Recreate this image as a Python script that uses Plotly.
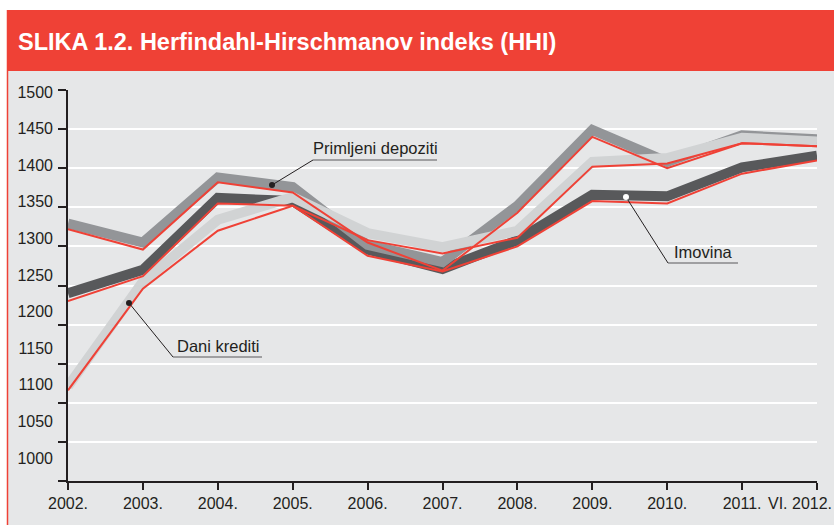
import plotly.graph_objects as go

years = ["2002.", "2003.", "2004.", "2005.", "2006.", "2007.", "2008.", "2009.", "2010.", "2011.", "VI. 2012."]

imovina = [1240, 1270, 1362, 1358, 1296, 1271, 1308, 1366, 1364, 1401, 1416]
imovina_red = [1230, 1262, 1355, 1352, 1288, 1268, 1300, 1358, 1355, 1393, 1410]
depoziti = [1329, 1305, 1388, 1376, 1302, 1280, 1352, 1449, 1408, 1442, 1437]
depoziti_red = [1322, 1296, 1382, 1369, 1305, 1269, 1343, 1440, 1400, 1432, 1428]
krediti = [1121, 1255, 1334, 1363, 1317, 1299, 1320, 1408, 1413, 1439, 1434]
krediti_red = [1116, 1246, 1320, 1352, 1308, 1291, 1311, 1402, 1406, 1432, 1428]

y_ticks = [1000, 1050, 1100, 1150, 1200, 1250, 1300, 1350, 1400, 1450, 1500]

DARK = "#58595b"
MID = "#939598"
LIGHT = "#d1d3d4"
RED = "#ef4136"
INK = "#231f20"
BG = "#e6e7e8"
FONT = "Liberation Sans"

W, H = 834, 525
L, R, T, B = 68, 17, 90, 44
PW, PH = W - L - R, H - T - B


def px(x):
    return (x - L) / PW


def py(y):
    return (H - B - y) / PH


fig = go.Figure()

for vals, col in [(imovina, DARK), (depoziti, MID), (krediti, LIGHT)]:
    fig.add_trace(go.Scatter(x=years, y=vals, mode="lines",
                             line=dict(color=col, width=10),
                             showlegend=False, hoverinfo="skip"))
for vals in [imovina_red, depoziti_red, krediti_red]:
    fig.add_trace(go.Scatter(x=years, y=vals, mode="lines",
                             line=dict(color=RED, width=2),
                             showlegend=False, hoverinfo="skip"))

# empty trace to create the label axis
fig.add_trace(go.Scatter(x=[], y=[], yaxis="y2", showlegend=False, hoverinfo="skip"))

shapes = [
    dict(type="rect", xref="paper", yref="paper", x0=px(7), x1=px(840), y0=py(71), y1=py(530),
         fillcolor=BG, line=dict(width=0), layer="below"),
    dict(type="rect", xref="paper", yref="paper", x0=px(7), x1=px(840), y0=py(10), y1=py(71),
         fillcolor=RED, line=dict(width=0), layer="below"),
    dict(type="line", xref="paper", yref="paper", x0=px(7.5), x1=px(7.5), y0=py(10), y1=py(530),
         line=dict(color=RED, width=1.5), layer="below"),
]

leaders = [
    ((272, 185), (313, 160), (437, 160), INK),
    ((129, 303), (173, 357), (262, 357), INK),
    ((626, 197), (668, 263), (738, 263), "white"),
]
for dot, elbow, end, dotcol in leaders:
    shapes.append(dict(type="line", xref="paper", yref="paper",
                       x0=px(dot[0]), y0=py(dot[1]), x1=px(elbow[0]), y1=py(elbow[1]),
                       line=dict(color=INK, width=1)))
    shapes.append(dict(type="line", xref="paper", yref="paper",
                       x0=px(elbow[0]), y0=py(elbow[1]), x1=px(end[0]), y1=py(end[1]),
                       line=dict(color="#58595b", width=1.2)))
    shapes.append(dict(type="circle", xref="paper", yref="paper",
                       x0=px(dot[0] - 3), x1=px(dot[0] + 3), y0=py(dot[1] - 3), y1=py(dot[1] + 3),
                       fillcolor=dotcol, line=dict(width=0)))

annotations = [
    dict(text="<b>SLIKA 1.2. Herfindahl-Hirschmanov indeks (HHI)</b>", xref="paper", yref="paper",
         x=px(16), y=py(42), xanchor="left", yanchor="middle", showarrow=False,
         font=dict(family=FONT, size=23.5, color="white")),
    dict(text="Primljeni depoziti", xref="paper", yref="paper", x=px(311), y=py(148),
         xanchor="left", yanchor="middle", showarrow=False, font=dict(family=FONT, size=16.5, color=INK)),
    dict(text="Dani krediti", xref="paper", yref="paper", x=px(175), y=py(346),
         xanchor="left", yanchor="middle", showarrow=False, font=dict(family=FONT, size=16.5, color=INK)),
    dict(text="Imovina", xref="paper", yref="paper", x=px(672), y=py(252),
         xanchor="left", yanchor="middle", showarrow=False, font=dict(family=FONT, size=16.5, color=INK)),
    dict(text=years[-1], xref="paper", yref="paper", x=px(834), y=py(503),
         xanchor="right", yanchor="middle", showarrow=False, font=dict(family=FONT, size=16, color=INK)),
]

fig.update_layout(
    width=W, height=H,
    margin=dict(l=L, r=R, t=T, b=B),
    paper_bgcolor="white", plot_bgcolor="rgba(0,0,0,0)",
    font=dict(family=FONT, size=16, color=INK),
    showlegend=False,
    shapes=shapes, annotations=annotations,
    xaxis=dict(type="category", range=[0, len(years) - 1], tickvals=years,
               ticktext=years[:-1] + [""], showgrid=False, showline=True,
               linecolor=INK, linewidth=2, ticks="outside", ticklen=7, tickwidth=1.5,
               tickcolor=INK, tickfont=dict(family=FONT, size=16, color=INK), fixedrange=True),
    yaxis=dict(range=[1000, 1500], tickvals=y_ticks, showticklabels=False,
               showgrid=True, gridcolor="white", gridwidth=2, zeroline=False,
               showline=True, linecolor=INK, linewidth=2, ticks="outside", ticklen=8,
               tickwidth=1.5, tickcolor=INK, fixedrange=True),
    yaxis2=dict(overlaying="y", side="left", range=[968.6, 1502.7], tickvals=y_ticks,
                showgrid=False, zeroline=False, showline=False, ticks="",
                ticklabelstandoff=14, tickfont=dict(family=FONT, size=16, color=INK),
                fixedrange=True),
)

fig.write_html("out.html", config={"displayModeBar": False},
               post_script="document.body.style.margin='0';document.body.style.overflow='hidden';")
